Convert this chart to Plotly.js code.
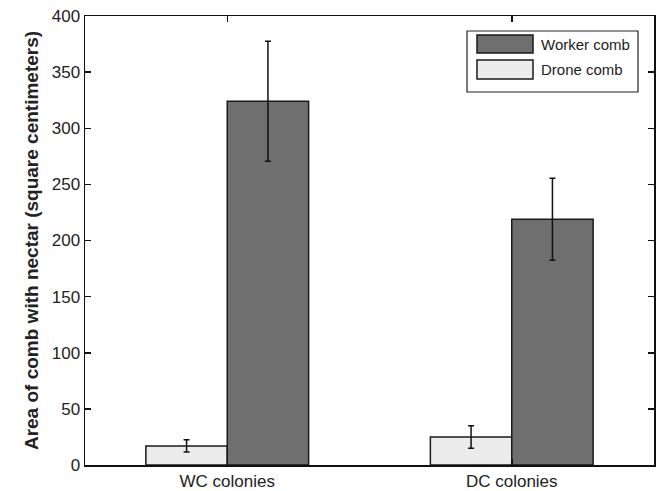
<!DOCTYPE html>
<html>
<head>
<meta charset="utf-8">
<script src="https://cdn.plot.ly/plotly-3.0.1.min.js"></script>
<style>html,body{margin:0;padding:0;background:#fff;}#chart{width:657px;height:491px;}</style>
</head>
<body>
<div id="chart"></div>
<script>
const categories = ["WC colonies", "DC colonies"];
const droneValues = [17, 25];
const droneErrors = [5.5, 10];
const workerValues = [324, 219];
const workerErrors = [53.5, 36.5];
const yTicks = [0, 50, 100, 150, 200, 250, 300, 350, 400];
const legendLabels = ["Worker comb", "Drone comb"];

const W = 657, H = 491;
const M = {l: 85, r: 3, t: 16, b: 26};
const pw = W - M.l - M.r, ph = H - M.t - M.b;
const px = x => (x - M.l) / pw;
const py = y => 1 - (y - M.t) / ph;

const workerColor = "#6f6f6f", droneColor = "#ececec", edge = "#1a1a1a";
const FONT = "Liberation Sans, Arial, sans-serif";

const traces = [
  {type: "bar", name: "Drone comb", x: categories, y: droneValues,
   marker: {color: droneColor, line: {color: edge, width: 1.5}},
   error_y: {type: "data", array: droneErrors, visible: true, color: "#111", thickness: 1.5, width: 3},
   showlegend: false, hoverinfo: "none"},
  {type: "bar", name: "Worker comb", x: categories, y: workerValues,
   marker: {color: workerColor, line: {color: edge, width: 1.5}},
   error_y: {type: "data", array: workerErrors, visible: true, color: "#111", thickness: 1.5, width: 3},
   showlegend: false, hoverinfo: "none"}
];

const shapes = [
  {type: "rect", xref: "paper", yref: "paper", x0: px(467), x1: px(638), y0: py(92), y1: py(31),
   line: {color: "#222", width: 1.2}, fillcolor: "#fff"},
  {type: "rect", xref: "paper", yref: "paper", x0: px(477), x1: px(533), y0: py(53), y1: py(35),
   line: {color: edge, width: 1.5}, fillcolor: workerColor},
  {type: "rect", xref: "paper", yref: "paper", x0: px(477), x1: px(533), y0: py(79), y1: py(60),
   line: {color: edge, width: 1.5}, fillcolor: droneColor}
];

const annotations = [
  {xref: "paper", yref: "paper", x: px(539), y: py(44), xanchor: "left", yanchor: "middle",
   text: legendLabels[0], showarrow: false, font: {family: FONT, size: 15, color: "#222"}},
  {xref: "paper", yref: "paper", x: px(539), y: py(69.5), xanchor: "left", yanchor: "middle",
   text: legendLabels[1], showarrow: false, font: {family: FONT, size: 15, color: "#222"}}
];

const layout = {
  width: W, height: H,
  margin: M,
  paper_bgcolor: "#fff", plot_bgcolor: "#fff",
  barmode: "group", bargap: 0.428, bargroupgap: 0,
  font: {family: FONT, size: 17, color: "#222"},
  xaxis: {
    type: "category", range: [-0.5, 1.5],
    showline: true, linecolor: "#111", linewidth: 1.5, mirror: "ticks",
    ticks: "inside", ticklen: 6, tickwidth: 1.5, tickcolor: "#111",
    showgrid: false, zeroline: false,
    tickfont: {size: 17, color: "#222"}
  },
  yaxis: {
    range: [0, 400], tickvals: yTicks, ticktext: yTicks.map(String),
    showline: true, linecolor: "#111", linewidth: 1.5, mirror: "ticks",
    ticks: "inside", ticklen: 6, tickwidth: 1.5, tickcolor: "#111",
    showgrid: false, zeroline: false,
    tickfont: {size: 17, color: "#222"},
    title: {text: "Area of comb with nectar (square centimeters)", font: {size: 19, color: "#222", weight: "bold"}, standoff: 8}
  },
  shapes: shapes,
  annotations: annotations
};

Plotly.newPlot("chart", traces, layout, {displayModeBar: false, staticPlot: true});
</script>
</body>
</html>
